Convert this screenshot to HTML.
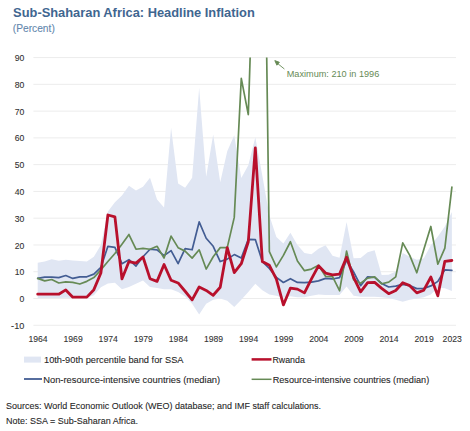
<!DOCTYPE html>
<html><head><meta charset="utf-8"><style>
html,body{margin:0;padding:0;background:#fff;}
body{width:470px;height:431px;overflow:hidden;position:relative;font-family:"Liberation Sans",sans-serif;}
svg{position:absolute;left:0;top:0;}
text{font-family:"Liberation Sans",sans-serif;}
</style></head><body>
<svg width="470" height="431" viewBox="0 0 470 431">
<defs><clipPath id="pa"><rect x="30" y="57.5" width="430" height="270"/></clipPath></defs>
<g stroke="#ececec" stroke-width="1"><line x1="33.4" x2="456" y1="325.27" y2="325.27"/><line x1="33.4" x2="456" y1="298.50" y2="298.50"/><line x1="33.4" x2="456" y1="271.73" y2="271.73"/><line x1="33.4" x2="456" y1="244.96" y2="244.96"/><line x1="33.4" x2="456" y1="218.19" y2="218.19"/><line x1="33.4" x2="456" y1="191.42" y2="191.42"/><line x1="33.4" x2="456" y1="164.65" y2="164.65"/><line x1="33.4" x2="456" y1="137.88" y2="137.88"/><line x1="33.4" x2="456" y1="111.11" y2="111.11"/><line x1="33.4" x2="456" y1="84.34" y2="84.34"/><line x1="33.4" x2="456" y1="57.57" y2="57.57"/></g>
<g clip-path="url(#pa)">
<polygon points="37.70,262.63 44.72,261.56 51.74,259.15 58.76,260.75 65.78,259.68 72.80,260.49 79.82,261.02 86.84,261.56 93.86,256.74 100.88,244.96 107.90,211.50 114.92,202.13 121.94,195.44 128.96,185.80 135.98,190.62 143.00,186.87 150.02,177.77 157.04,199.45 164.06,207.48 171.08,127.71 178.10,183.39 185.12,187.67 192.14,177.77 199.16,87.82 206.18,176.70 213.20,134.40 220.22,182.32 227.24,151.26 234.26,135.20 241.28,178.03 248.30,165.19 255.32,137.34 262.34,175.63 269.36,215.51 276.38,236.93 283.40,243.62 290.42,232.65 297.44,244.96 304.46,252.99 311.48,254.33 318.50,248.71 325.52,245.23 332.54,255.67 339.56,257.81 346.58,221.94 353.60,258.35 360.62,258.08 367.64,252.19 374.66,250.31 381.68,274.94 388.70,274.67 395.72,271.46 402.74,252.99 409.76,256.74 416.78,259.68 423.80,258.35 430.82,245.23 437.84,236.39 444.86,226.49 451.88,212.03 451.88,291.00 444.86,288.33 437.84,287.79 430.82,294.48 423.80,297.16 416.78,298.50 409.76,299.84 402.74,301.71 395.72,299.84 388.70,297.96 381.68,297.16 374.66,296.63 367.64,296.63 360.62,296.63 353.60,295.82 346.58,286.45 339.56,295.02 332.54,295.02 325.52,295.02 318.50,294.48 311.48,295.82 304.46,297.16 297.44,297.16 290.42,296.36 283.40,297.70 276.38,295.82 269.36,294.48 262.34,290.20 255.32,283.78 248.30,292.08 241.28,299.70 234.26,307.07 227.24,300.64 220.22,298.50 213.20,299.70 206.18,303.85 199.16,314.56 192.14,303.85 185.12,296.49 178.10,292.08 171.08,289.13 164.06,289.13 157.04,288.06 150.02,286.99 143.00,280.56 135.98,283.78 128.96,286.99 121.94,289.13 114.92,282.71 107.90,283.51 100.88,287.26 93.86,295.29 86.84,297.70 79.82,297.70 72.80,297.96 65.78,297.70 58.76,297.96 51.74,297.96 44.72,297.96 37.70,297.96" fill="#e0e6f3"/>
<polyline points="37.70,278.42 44.72,277.08 51.74,277.08 58.76,277.62 65.78,275.48 72.80,278.42 79.82,276.82 86.84,276.82 93.86,274.14 100.88,267.45 107.90,246.30 114.92,247.37 121.94,263.70 128.96,259.68 135.98,266.11 143.00,256.74 150.02,249.24 157.04,249.78 164.06,255.67 171.08,250.58 178.10,263.70 185.12,248.71 192.14,249.78 199.16,221.94 206.18,238.27 213.20,246.30 220.22,261.56 227.24,259.15 234.26,254.60 241.28,258.08 248.30,239.34 255.32,239.61 262.34,261.56 269.36,268.52 276.38,277.35 283.40,282.44 290.42,278.69 297.44,282.44 304.46,282.71 311.48,282.17 318.50,280.83 325.52,278.42 332.54,278.96 339.56,277.62 346.58,260.22 353.60,272.00 360.62,285.65 367.64,276.82 374.66,277.35 381.68,283.51 388.70,286.99 395.72,286.19 402.74,284.31 409.76,285.65 416.78,288.60 423.80,288.33 430.82,285.92 437.84,281.37 444.86,269.86 451.88,270.39" fill="none" stroke="#435d93" stroke-width="1.7" stroke-linejoin="round" stroke-linecap="round"/>
<polyline points="37.70,278.42 44.72,280.83 51.74,279.49 58.76,282.97 65.78,281.90 72.80,282.44 79.82,284.04 86.84,281.37 93.86,277.62 100.88,269.86 107.90,261.56 114.92,253.53 121.94,244.16 128.96,234.52 135.98,249.24 143.00,248.31 150.02,249.24 157.04,246.30 164.06,258.08 171.08,236.13 178.10,247.64 185.12,251.12 192.14,258.08 199.16,249.78 206.18,269.05 213.20,256.74 220.22,247.64 227.24,247.64 234.26,217.39 241.28,78.45 248.30,114.59 255.32,-103.05 262.34,-263.67 269.36,251.65 276.38,266.91 283.40,255.40 290.42,241.75 297.44,261.02 304.46,270.66 311.48,269.05 318.50,265.31 325.52,276.28 332.54,276.55 339.56,290.74 346.58,251.12 353.60,279.76 360.62,283.24 367.64,278.15 374.66,276.82 381.68,283.78 388.70,282.17 395.72,276.82 402.74,242.82 409.76,255.40 416.78,272.80 423.80,249.51 430.82,226.49 437.84,264.23 444.86,248.17 451.88,187.14" fill="none" stroke="#668a55" stroke-width="1.7" stroke-linejoin="round" stroke-linecap="round"/>
<polyline points="37.70,294.22 44.72,294.22 51.74,294.22 58.76,294.22 65.78,289.93 72.80,297.16 79.82,297.16 86.84,297.16 93.86,289.67 100.88,273.07 107.90,214.98 114.92,216.85 121.94,278.96 128.96,261.56 135.98,263.16 143.00,257.01 150.02,278.69 157.04,281.37 164.06,264.50 171.08,280.30 178.10,282.97 185.12,291.27 192.14,299.84 199.16,286.99 206.18,290.47 213.20,295.29 220.22,287.26 227.24,247.64 234.26,272.53 241.28,263.70 248.30,241.75 255.32,147.78 262.34,261.56 269.36,265.31 276.38,279.23 283.40,304.92 290.42,288.06 297.44,289.13 304.46,292.88 311.48,278.96 318.50,265.84 325.52,273.07 332.54,274.94 339.56,274.14 346.58,257.27 353.60,277.35 360.62,291.81 367.64,282.71 374.66,282.44 381.68,288.33 388.70,293.68 395.72,290.47 402.74,282.71 409.76,285.65 416.78,292.88 423.80,290.20 430.82,277.08 437.84,295.82 444.86,261.29 451.88,260.49" fill="none" stroke="#b8102c" stroke-width="2.8" stroke-linejoin="round" stroke-linecap="round"/>
</g>
<g font-size="9" fill="#333333" stroke="#333333" stroke-width="0.1" text-anchor="end"><text x="24.3" y="328.87" textLength="13.2" lengthAdjust="spacingAndGlyphs">-10</text><text x="24.3" y="302.10" textLength="4.8" lengthAdjust="spacingAndGlyphs">0</text><text x="24.3" y="275.33" textLength="9.6" lengthAdjust="spacingAndGlyphs">10</text><text x="24.3" y="248.56" textLength="9.6" lengthAdjust="spacingAndGlyphs">20</text><text x="24.3" y="221.79" textLength="9.6" lengthAdjust="spacingAndGlyphs">30</text><text x="24.3" y="195.02" textLength="9.6" lengthAdjust="spacingAndGlyphs">40</text><text x="24.3" y="168.25" textLength="9.6" lengthAdjust="spacingAndGlyphs">50</text><text x="24.3" y="141.48" textLength="9.6" lengthAdjust="spacingAndGlyphs">60</text><text x="24.3" y="114.71" textLength="9.6" lengthAdjust="spacingAndGlyphs">70</text><text x="24.3" y="87.94" textLength="9.6" lengthAdjust="spacingAndGlyphs">80</text><text x="24.3" y="61.17" textLength="9.6" lengthAdjust="spacingAndGlyphs">90</text></g>
<g font-size="9.1" fill="#333333" stroke="#333333" stroke-width="0.1" text-anchor="middle"><text x="38.00" y="342.4" textLength="19.2" lengthAdjust="spacingAndGlyphs">1964</text><text x="73.10" y="342.4" textLength="19.2" lengthAdjust="spacingAndGlyphs">1969</text><text x="108.20" y="342.4" textLength="19.2" lengthAdjust="spacingAndGlyphs">1974</text><text x="143.30" y="342.4" textLength="19.2" lengthAdjust="spacingAndGlyphs">1979</text><text x="178.40" y="342.4" textLength="19.2" lengthAdjust="spacingAndGlyphs">1984</text><text x="213.50" y="342.4" textLength="19.2" lengthAdjust="spacingAndGlyphs">1989</text><text x="248.60" y="342.4" textLength="19.2" lengthAdjust="spacingAndGlyphs">1994</text><text x="283.70" y="342.4" textLength="19.2" lengthAdjust="spacingAndGlyphs">1999</text><text x="318.80" y="342.4" textLength="19.2" lengthAdjust="spacingAndGlyphs">2004</text><text x="353.90" y="342.4" textLength="19.2" lengthAdjust="spacingAndGlyphs">2009</text><text x="389.00" y="342.4" textLength="19.2" lengthAdjust="spacingAndGlyphs">2014</text><text x="424.10" y="342.4" textLength="19.2" lengthAdjust="spacingAndGlyphs">2019</text><text x="452.18" y="342.4" textLength="19.2" lengthAdjust="spacingAndGlyphs">2023</text></g>
<g stroke="#668a55" stroke-width="0.9" fill="#668a55">
<line x1="277" y1="63" x2="284.4" y2="69"/>
<polygon points="274.8,60.6 279.4,62.3 276.9,65.2"/>
</g>
<text x="286.7" y="77.4" font-size="9.3" textLength="92.6" lengthAdjust="spacingAndGlyphs" fill="#668a55">Maximum: 210 in 1996</text>
<text x="13.1" y="16.6" font-weight="bold" font-size="13.2" textLength="241.7" lengthAdjust="spacingAndGlyphs" fill="#3f6690">Sub-Shaharan Africa: Headline Inflation</text>
<text x="12.8" y="31.7" font-size="10.6" textLength="42" lengthAdjust="spacingAndGlyphs" fill="#6387ad" stroke="#6387ad" stroke-width="0.1" >(Percent)</text>
<rect x="24" y="356.6" width="17" height="6" fill="#e0e6f3"/>
<text x="44" y="363" font-size="9.9" textLength="139.5" lengthAdjust="spacingAndGlyphs" fill="#262626" stroke="#262626" stroke-width="0.1" >10th-90th percentile band for SSA</text>
<line x1="24" x2="42" y1="379" y2="379" stroke="#435d93" stroke-width="1.8"/>
<text x="43.2" y="382.5" font-size="9.9" textLength="177" lengthAdjust="spacingAndGlyphs" fill="#262626" stroke="#262626" stroke-width="0.1" >Non-resource-intensive countries (median)</text>
<line x1="251.6" x2="271.5" y1="359.4" y2="359.4" stroke="#b8102c" stroke-width="2.5"/>
<text x="272.4" y="362.5" font-size="9.9" textLength="32.5" lengthAdjust="spacingAndGlyphs" fill="#262626" stroke="#262626" stroke-width="0.1" >Rwanda</text>
<line x1="251.6" x2="271.5" y1="379.3" y2="379.3" stroke="#668a55" stroke-width="1.5"/>
<text x="272.7" y="382.5" font-size="9.9" textLength="156.5" lengthAdjust="spacingAndGlyphs" fill="#262626" stroke="#262626" stroke-width="0.1" >Resource-intensive countries (median)</text>
<text x="6.1" y="409.4" font-size="9.9" textLength="315" lengthAdjust="spacingAndGlyphs" fill="#262626" stroke="#262626" stroke-width="0.1" >Sources: World Economic Outlook (WEO) database; and IMF staff calculations.</text>
<text x="6.1" y="423.9" font-size="9.9" textLength="132" lengthAdjust="spacingAndGlyphs" fill="#262626" stroke="#262626" stroke-width="0.1" >Note: SSA = Sub-Saharan Africa.</text>
</svg>
</body></html>
